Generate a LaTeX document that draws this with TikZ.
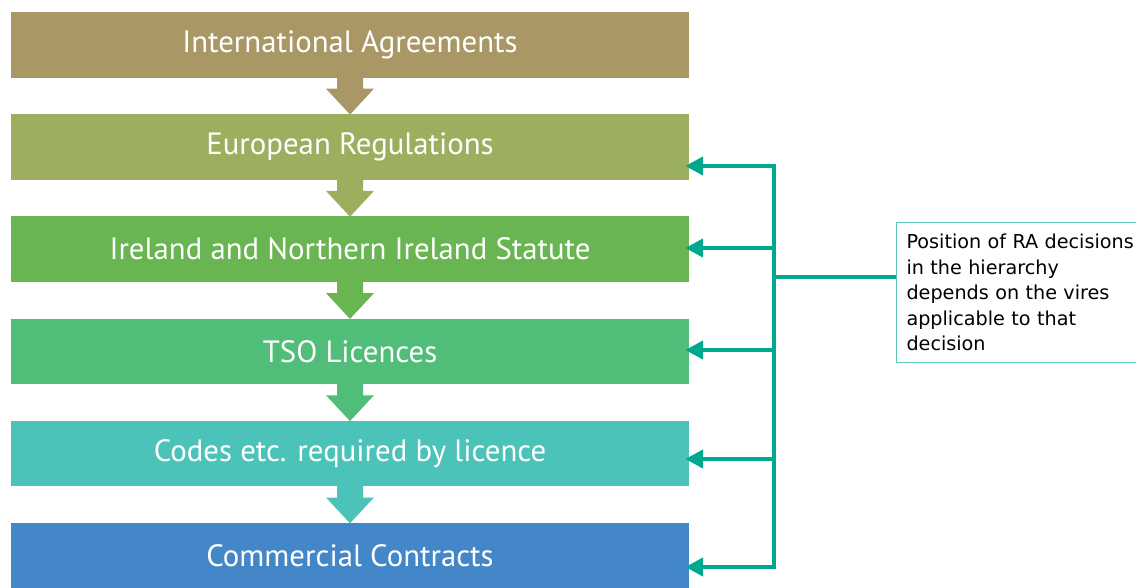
\documentclass[tikz,border=0pt]{standalone}
\usepackage{fontspec}
\setmainfont{PT Sans}
\newfontfamily\notefont{DejaVu Sans}
\usetikzlibrary{calc,arrows.meta}
\definecolor{cA}{HTML}{A99865}
\definecolor{cB}{HTML}{9BAF5F}
\definecolor{cC}{HTML}{69B552}
\definecolor{cD}{HTML}{50BD79}
\definecolor{cE}{HTML}{4BC3B8}
\definecolor{cF}{HTML}{4387C8}
\definecolor{teal}{HTML}{00A88E}
\definecolor{noteborder}{HTML}{5CC9B8}
\tikzset{
  levelbox/.style={minimum width=678pt, minimum height=65.5pt, inner sep=0pt,
    text=white, font=\fontsize{30.8}{33}\selectfont},
  conn/.style={draw=teal, line width=4.5pt, line join=miter},
  tipped/.style={-{Triangle[length=18pt,width=18pt]}},
  notebox/.style={draw=noteborder, line width=1pt, anchor=north west, minimum width=260pt,
    minimum height=140pt, text width=240pt, align=left, inner xsep=10pt,
    font=\notefont\fontsize{19.2}{25.5}\selectfont, text=black}
}
\newcommand{\levelarrow}[3]{%
  \fill[#3] ($(#1.south)+(-13,-0.5)$) -- ($(#1.south)+(13,-0.5)$) -- ($(#1.south)+(13,11)$)
    -- ($(#1.south)+(24,11)$) -- ($(#2.north)+(0,0.5)$) -- ($(#1.south)+(-24,11)$)
    -- ($(#1.south)+(-13,11)$) -- cycle;}
\begin{document}
\begin{tikzpicture}[x=1pt,y=-1pt]
\useasboundingbox (0,0) rectangle (1136,587);
\clip (0,0) rectangle (1136,587);
\node[levelbox, fill=cA] (b1) at (350,44.75) {\raisebox{-1.5pt}{International Agreements}};
\node[levelbox, fill=cB] (b2) at (350,146.95) {\raisebox{-1.5pt}{European Regulations}};
\node[levelbox, fill=cC] (b3) at (350,249.15) {\raisebox{-1.5pt}{Ireland and Northern Ireland Statute}};
\node[levelbox, fill=cD] (b4) at (350,351.35) {\raisebox{-1.5pt}{TSO Licences}};
\node[levelbox, fill=cE] (b5) at (350,453.55) {\raisebox{-1.5pt}{Codes etc. required by licence}};
\node[levelbox, fill=cF] (b6) at (350,555.75) {\raisebox{-1.5pt}{Commercial Contracts}};
\levelarrow{b1}{b2}{cA}
\levelarrow{b2}{b3}{cB}
\levelarrow{b3}{b4}{cC}
\levelarrow{b4}{b5}{cD}
\levelarrow{b5}{b6}{cE}
\node[notebox] (note) at (896,222) {Position of RA decisions\\ in the hierarchy\\ depends on the vires\\ applicable to that\\ decision};
\coordinate (j2) at (774,166);
\coordinate (j3) at (774,248);
\coordinate (j4) at (774,350);
\coordinate (j5) at (774,459);
\coordinate (j6) at (774,567);
\coordinate (jn) at (774,277);
\draw[conn, {Triangle[length=18pt,width=18pt]}-{Triangle[length=18pt,width=18pt]}]
  ($(b2.east|-j2)+(-4,0)$) -- (j2) -- (j6) -- ($(b6.east|-j6)+(-4,0)$);
\draw[conn, tipped] (j3) -- ($(b3.east|-j3)+(-4,0)$);
\draw[conn, tipped] (j4) -- ($(b4.east|-j4)+(-4,0)$);
\draw[conn, tipped] (j5) -- ($(b5.east|-j5)+(-4,0)$);
\draw[conn] (jn) -- (note.west|-jn);
\end{tikzpicture}
\end{document}
